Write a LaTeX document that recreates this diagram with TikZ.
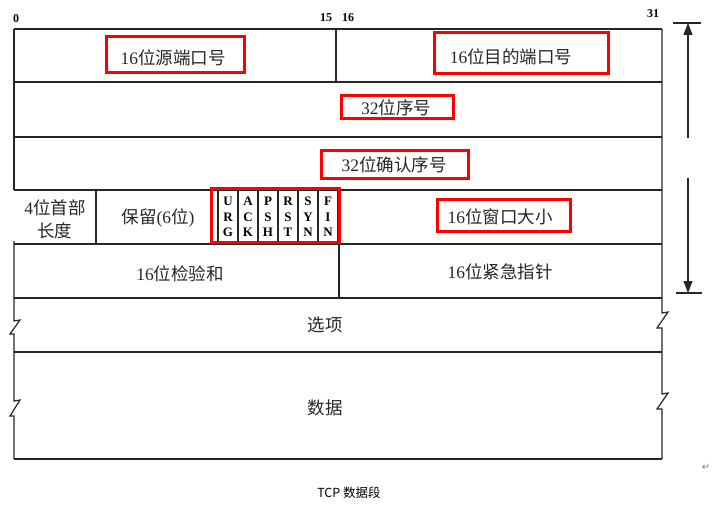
\documentclass[tikz,border=0pt]{standalone}
\usepackage{fontspec}
\setmainfont{Liberation Serif}
\newfontfamily\cjk{Noto Sans CJK SC}
\newfontfamily\djv{DejaVu Sans}
\usetikzlibrary{arrows.meta}
\newcommand{\zh}[1]{{\cjk #1}}
\begin{document}
\begin{tikzpicture}[x=1pt,y=-1pt,
  frame/.style={line width=1.2pt, draw=black!85, line join=miter},
  redbox/.style={draw=red, line width=3pt},
  lbl/.style={inner sep=0pt, font=\fontsize{17.5}{20}\selectfont, text=black!85},
  bitno/.style={inner sep=0pt, font=\bfseries\fontsize{12}{14}\selectfont},
  flag/.style={inner sep=0pt, align=center, font=\bfseries\fontsize{13}{15.5}\selectfont},
  dim/.style={line width=1.1pt, draw=black!85},
  tip/.style={-{Triangle[length=12pt,width=9pt]}}]
\useasboundingbox (0,0) rectangle (726,508);
% rows
\foreach \yy in {29,82,137,190,244,298,352,459}
  \draw[frame] (14,\yy) -- (662,\yy);
% left border with gap and break marks
\draw[frame] (14,29) -- (14,190);
\draw[frame] (14,241) -- (14,321) -- (20,320) -- (10,334) -- (14,334) -- (14,401) -- (20,400) -- (10,416) -- (14,416) -- (14,459);
% right border with break marks
\draw[frame] (662,29) -- (662,313) -- (668,312) -- (657,328) -- (662,328) -- (662,394) -- (668,393) -- (657,409) -- (662,409) -- (662,459);
% dividers
\draw[frame] (336,29) -- (336,82);
\draw[frame] (96,190) -- (96,244);
\foreach \k in {0,...,6}
  \draw[frame] ({218+20*\k},190) -- ({218+20*\k},244);
\draw[frame] (339,244) -- (339,298);
% bit numbers
\node[bitno] (b0) at (16,19) {0};
\node[bitno] (b15) at (326,18) {15};
\node[bitno] (b16) at (348,18) {16};
\node[bitno] (b31) at (653,14) {31};
% field labels
\node[lbl] (src) at (173,58) {16\zh{位源端口号}};
\node[lbl] (dst) at (511,57) {16\zh{位目的端口号}};
\node[lbl] (seq) at (396,108) {32\zh{位序号}};
\node[lbl] (ack) at (394,165) {32\zh{位确认序号}};
\node[lbl, align=center, font=\fontsize{17.5}{23}\selectfont] (hlen) at (55,219) {4\zh{位首部}\\\zh{长度}};
\node[lbl] (rsv) at (158,218) {\zh{保留}(6\zh{位})};
\node[lbl] (win) at (500,217) {16\zh{位窗口大小}};
\node[lbl] (chk) at (180,274) {16\zh{位检验和}};
\node[lbl] (urg) at (500,272) {16\zh{位紧急指针}};
\node[lbl] (opt) at (325,325) {\zh{选项}};
\node[lbl] (dat) at (325,408) {\zh{数据}};
% flags
\node[flag] (fU) at (228,217) {U\\R\\G};
\node[flag] (fA) at (248,217) {A\\C\\K};
\node[flag] (fP) at (268,217) {P\\S\\H};
\node[flag] (fR) at (288,217) {R\\S\\T};
\node[flag] (fS) at (308,217) {S\\Y\\N};
\node[flag] (fF) at (328,217) {F\\I\\N};
% red highlight boxes
\draw[redbox] (106,37) rectangle (244,73);
\draw[redbox] (434,33) rectangle (608,74);
\draw[redbox] (341,96) rectangle (453,119);
\draw[redbox] (321,151) rectangle (468,179);
\draw[redbox] (211,189) rectangle (339,242);
\draw[redbox] (437,200) rectangle (570,231);
% length arrows
\coordinate (atop) at (688,23);
\coordinate (amid1) at (688,138);
\coordinate (amid2) at (688,178);
\coordinate (abot) at (688,293);
\draw[dim] (673,23) -- (701,23);
\draw[dim] (676,293) -- (702,293);
\draw[dim, tip] (amid1) -- (atop);
\draw[dim, tip] (amid2) -- (abot);
% caption
\node[inner sep=0pt, font=\cjk\fontsize{12.5}{14}\selectfont] (cap) at (349,493) {TCP 数据段};
\node[inner sep=0pt, anchor=west, text=black!40, font=\fontsize{7}{8}\selectfont] (capdot) at (cap.east) {.};
\node[inner sep=0pt, text=black!50, font=\djv\fontsize{10}{11}\selectfont] (ret) at (706,467) {↵};
\end{tikzpicture}
\end{document}
